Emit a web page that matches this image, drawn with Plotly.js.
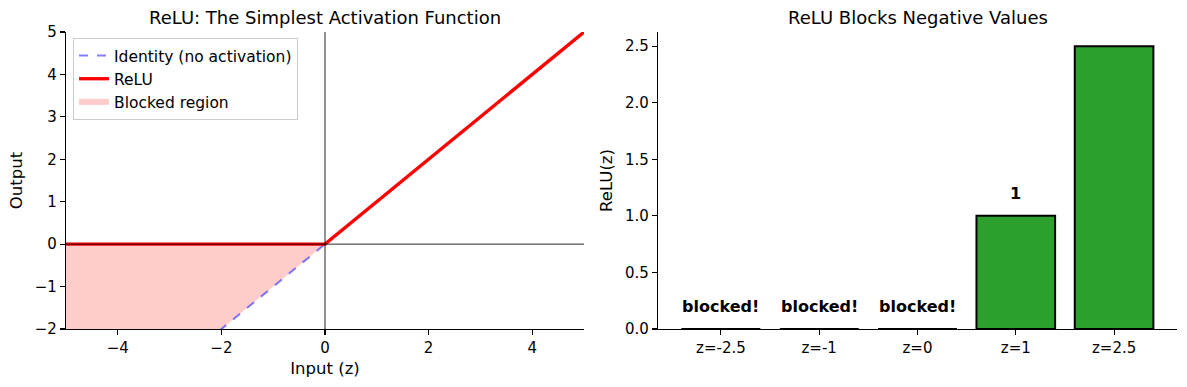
<!DOCTYPE html>
<html>
<head>
<meta charset="utf-8">
<script src="https://cdn.plot.ly/plotly-3.0.1.min.js"></script>
<style>html,body{margin:0;padding:0;background:#fff;}#chart{width:1187px;height:387px;}</style>
</head>
<body>
<div id="chart"></div>
<script>
// ---- Data ----
const inputZ = [-5, 0, 5];
const identityOut = [-5, 0, 5];
const reluOut = [0, 0, 5];
const blockedZ = [-5, 0];
const blockedTop = [0, 0];
const blockedBottom = [-5, 0];

const barCategories = ['z=-2.5', 'z=-1', 'z=0', 'z=1', 'z=2.5'];
const barValues = [0, 0, 0, 1, 2.5];
const barLabels = ['blocked!', 'blocked!', 'blocked!', '1', ''];

const leftXTicks = [-4, -2, 0, 2, 4];
const leftYTicks = [-2, -1, 0, 1, 2, 3, 4, 5];
const rightYTicks = [0, 0.5, 1.0, 1.5, 2.0, 2.5];

// ---- Styling ----
const FONT = 'DejaVu Sans, Liberation Sans, sans-serif';
const tickFont = {family: FONT, size: 15, color: '#000'};
const axTitleFont = {family: FONT, size: 16.5, color: '#000'};

const traces = [
  {x: blockedZ, y: blockedTop, xaxis: 'x', yaxis: 'y', mode: 'lines',
   line: {width: 0, color: 'rgba(0,0,0,0)'}, showlegend: false, hoverinfo: 'skip'},
  {x: blockedZ, y: blockedBottom, xaxis: 'x', yaxis: 'y', mode: 'none',
   fill: 'tonexty', fillcolor: 'rgba(255,0,0,0.2)', name: 'Blocked region', legendrank: 3},
  {x: inputZ, y: identityOut, xaxis: 'x', yaxis: 'y', mode: 'lines',
   line: {color: 'rgba(0,0,255,0.5)', width: 2, dash: 'dash'},
   name: 'Identity (no activation)', legendrank: 1},
  {x: inputZ, y: reluOut, xaxis: 'x', yaxis: 'y', mode: 'lines',
   line: {color: '#ff0000', width: 3.3}, name: 'ReLU', legendrank: 2},
  {x: barCategories, y: barValues, xaxis: 'x2', yaxis: 'y2', type: 'bar',
   width: 0.8, marker: {color: '#2ca02c', line: {color: '#000', width: 2}},
   showlegend: false}
];

const shapes = [
  {type: 'line', xref: 'x', yref: 'y domain', x0: 0, x1: 0, y0: 0, y1: 1,
   line: {color: 'rgba(0,0,0,0.85)', width: 1}, layer: 'above'},
  {type: 'line', xref: 'x domain', yref: 'y', x0: 0, x1: 1, y0: 0, y1: 0,
   line: {color: 'rgba(0,0,0,0.85)', width: 1}, layer: 'above'}
];
// zero-height bars are drawn by the library as nothing; show their outline
barValues.forEach((v, i) => {
  if (v === 0) {
    shapes.push({type: 'line', xref: 'x2', yref: 'y2', x0: i - 0.4, x1: i + 0.4, y0: v, y1: v,
      line: {color: '#000', width: 2}, layer: 'above'});
  }
});

const annotations = [
  {text: 'ReLU: The Simplest Activation Function', xref: 'x domain', yref: 'paper',
   x: 0.5, y: 1 - 18 / 387, xanchor: 'center', yanchor: 'middle', showarrow: false,
   font: {family: FONT, size: 18, color: '#000'}},
  {text: 'ReLU Blocks Negative Values', xref: 'x2 domain', yref: 'paper',
   x: 0.5, y: 1 - 18 / 387, xanchor: 'center', yanchor: 'middle', showarrow: false,
   font: {family: FONT, size: 18, color: '#000'}}
];
barLabels.forEach((lab, i) => {
  if (lab) {
    annotations.push({text: '<b>' + lab + '</b>', xref: 'x2', yref: 'y2',
      x: barCategories[i], y: barValues[i] + 0.1, xanchor: 'center', yanchor: 'bottom',
      showarrow: false, font: {family: FONT, size: 16, color: '#000'}});
  }
});

const commonAxis = {
  showline: true, linecolor: '#000', linewidth: 1.1, mirror: false,
  ticks: 'outside', ticklen: 5, tickwidth: 1.1, tickcolor: '#000',
  showgrid: false, zeroline: false, tickfont: tickFont, automargin: false
};

const layout = {
  width: 1187, height: 387,
  margin: {l: 0, r: 0, t: 0, b: 0},
  paper_bgcolor: '#fff', plot_bgcolor: '#fff',
  font: {family: FONT, color: '#000', size: 15},
  showlegend: true,
  legend: {x: 73 / 1187, y: 1 - 38 / 387, xanchor: 'left', yanchor: 'top',
    bgcolor: 'rgba(255,255,255,0.8)', bordercolor: '#cccccc', borderwidth: 1,
    font: {family: FONT, size: 15.5, color: '#000'}, traceorder: 'normal', tracegroupgap: 0},
  xaxis: Object.assign({}, commonAxis, {domain: [66 / 1187, 584 / 1187], range: [-5, 5],
    tickvals: leftXTicks, anchor: 'y',
    title: {text: 'Input (z)', font: axTitleFont, standoff: 6}}),
  yaxis: Object.assign({}, commonAxis, {domain: [1 - 329 / 387, 1 - 32 / 387], range: [-2, 5],
    tickvals: leftYTicks, anchor: 'x',
    title: {text: 'Output', font: axTitleFont, standoff: 8}}),
  xaxis2: Object.assign({}, commonAxis, {domain: [658 / 1187, 1177 / 1187], range: [-0.64, 4.64],
    type: 'category', anchor: 'y2'}),
  yaxis2: Object.assign({}, commonAxis, {domain: [1 - 329 / 387, 1 - 32 / 387], range: [0, 2.625],
    tickvals: rightYTicks, tickformat: '.1f', anchor: 'x2',
    title: {text: 'ReLU(z)', font: axTitleFont, standoff: 8}}),
  shapes: shapes,
  annotations: annotations,
  bargap: 0.2
};

Plotly.newPlot('chart', traces, layout, {displayModeBar: false, staticPlot: true});
</script>
</body>
</html>
